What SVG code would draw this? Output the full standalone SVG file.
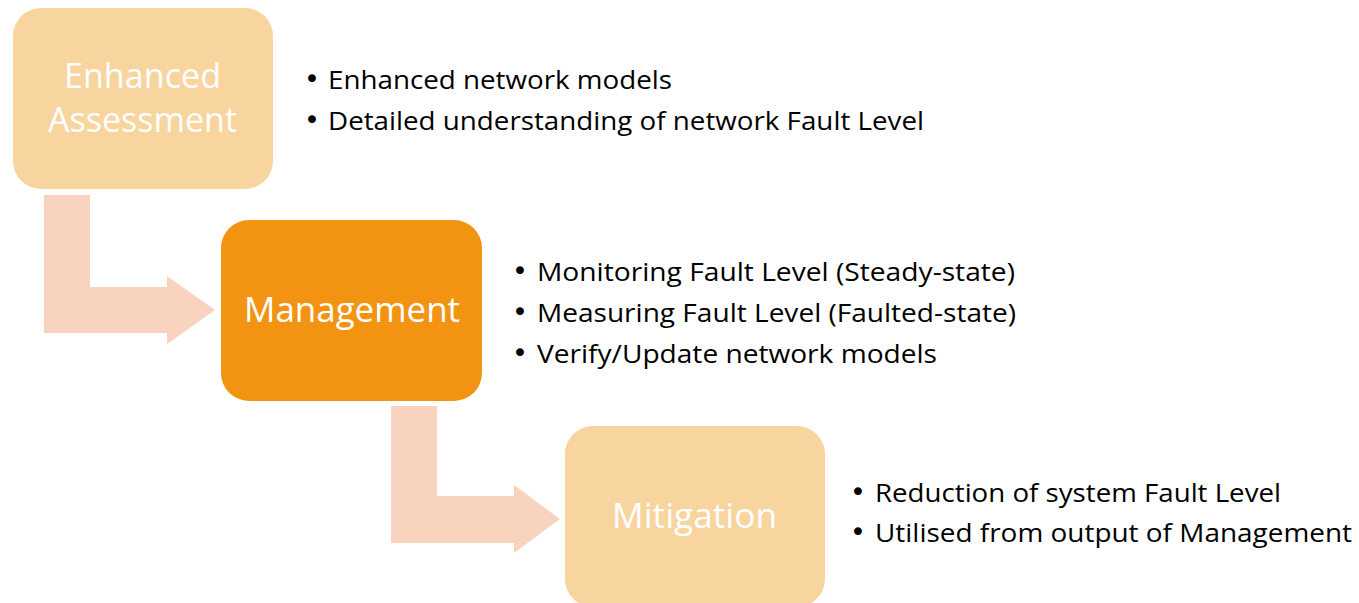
<svg xmlns="http://www.w3.org/2000/svg" width="1359" height="603" viewBox="0 0 1359 603">
<style>
.light{fill:#F8D49F}
.dark{fill:#F29312}
.arrow{fill:#F8D3BE}
.boxtext{font-family:"Open Sans","Liberation Sans",sans-serif;font-size:35px;fill:#FFFFFF;text-anchor:middle}
.bul{font-family:"Open Sans","Liberation Sans",sans-serif;font-size:25px;fill:#000000}
.dot{font-family:"DejaVu Sans",sans-serif;font-size:27px;fill:#000000}
</style>
<rect width="1359" height="603" fill="#FFFFFF"/>
<g id="connectors">
<path class="arrow" d="M44,195 H90 V287 H167 V276 L215,310 L167,344 V333 H44 Z"/>
<path class="arrow" d="M391,406 H437 V496 H514 V485 L560,519 L514,553 V543 H391 Z"/>
</g>
<g id="node-enhanced">
<rect class="light" x="13" y="8" width="260" height="181" rx="28"/>
<text class="boxtext" x="142.5" y="88" textLength="157" lengthAdjust="spacingAndGlyphs">Enhanced</text>
<text class="boxtext" x="142.5" y="132" textLength="189" lengthAdjust="spacingAndGlyphs">Assessment</text>
</g>
<g id="node-management">
<rect class="dark" x="221" y="220" width="261" height="181" rx="28"/>
<text class="boxtext" x="352" y="322" textLength="216" lengthAdjust="spacingAndGlyphs">Management</text>
</g>
<g id="node-mitigation">
<rect class="light" x="565" y="426" width="260" height="181" rx="28"/>
<text class="boxtext" x="694.5" y="528" textLength="165" lengthAdjust="spacingAndGlyphs">Mitigation</text>
</g>
<g id="notes-enhanced">
<text class="dot" x="304" y="88">•</text>
<text class="bul" x="328" y="89" textLength="344" lengthAdjust="spacingAndGlyphs">Enhanced network models</text>
<text class="dot" x="304" y="129">•</text>
<text class="bul" x="328" y="130" textLength="596" lengthAdjust="spacingAndGlyphs">Detailed understanding of network Fault Level</text>
</g>
<g id="notes-management">
<text class="dot" x="512" y="280">•</text>
<text class="bul" x="537" y="281" textLength="478" lengthAdjust="spacingAndGlyphs">Monitoring Fault Level (Steady-state)</text>
<text class="dot" x="512" y="321">•</text>
<text class="bul" x="537" y="322" textLength="479" lengthAdjust="spacingAndGlyphs">Measuring Fault Level (Faulted-state)</text>
<text class="dot" x="512" y="362">•</text>
<text class="bul" x="537" y="363" textLength="400" lengthAdjust="spacingAndGlyphs">Verify/Update network models</text>
</g>
<g id="notes-mitigation">
<text class="dot" x="850" y="501">•</text>
<text class="bul" x="875" y="502" textLength="406" lengthAdjust="spacingAndGlyphs">Reduction of system Fault Level</text>
<text class="dot" x="850" y="541">•</text>
<text class="bul" x="875" y="542" textLength="477" lengthAdjust="spacingAndGlyphs">Utilised from output of Management</text>
</g>
</svg>
